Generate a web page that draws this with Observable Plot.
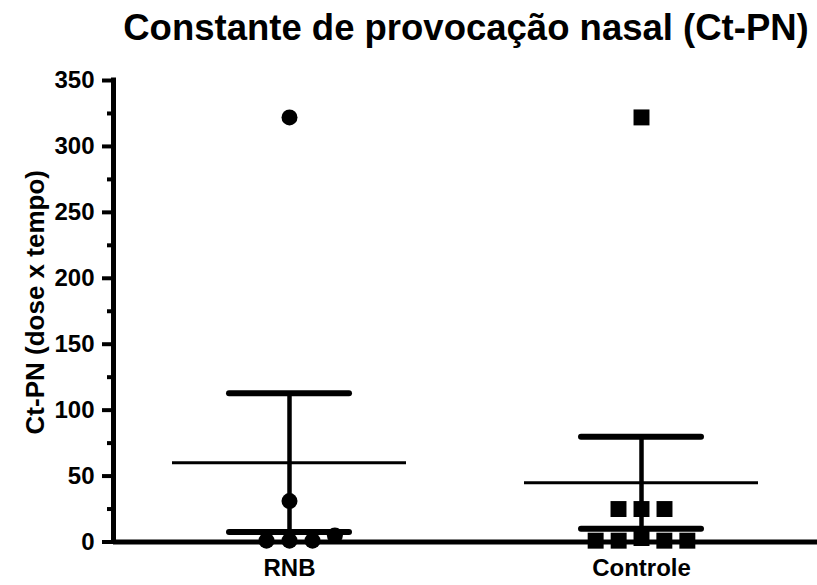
<!DOCTYPE html>
<html>
<head>
<meta charset="utf-8">
<script src="https://cdn.jsdelivr.net/npm/d3@7"></script>
<script src="https://cdn.jsdelivr.net/npm/@observablehq/plot@0.6"></script>
<style>
  body { margin: 0; background: #fff; font-family: "Liberation Sans", Arial, sans-serif; }
  #wrap { position: relative; width: 817px; height: 585px; overflow: hidden; }
  #title { position: absolute; left: 466px; top: 10px; transform: translateX(-50%); white-space: nowrap;
           font-size: 36.5px; line-height: 36px; font-weight: bold; color: #000; }
  #chart { position: absolute; left: 0; top: 0; }
</style>
</head>
<body>
<div id="wrap">
  <div id="chart"></div>
  <div id="title">Constante de provocação nasal (Ct-PN)</div>
</div>
<script>
// ---- data ----
const groups = ["RNB", "Controle"];
const rnbValues = [322, 31, 1, 1, 1, 5];
const controleValues = [322, 25, 25, 25, 3, 1, 1, 1, 1];
const yTicks = [0, 50, 100, 150, 200, 250, 300, 350];
const yMinorTicks = [25, 75, 125, 175, 225, 275, 325];
const yLabel = "Ct-PN (dose x tempo)";

const rnbRows = rnbValues.map(v => ({group: groups[0], value: v}));
const controleRows = controleValues.map(v => ({group: groups[1], value: v}));

// mean ± SEM per group
const stats = [[groups[0], rnbValues], [groups[1], controleValues]].map(([g, vals]) => {
  const m = d3.mean(vals);
  const sem = d3.deviation(vals) / Math.sqrt(vals.length);
  return {group: g, mean: m, hi: m + sem, lo: m - sem};
});

const chart = Plot.plot({
  width: 817,
  height: 585,
  marginLeft: 113,
  marginRight: 0,
  marginTop: 80,
  marginBottom: 43.5,
  style: {fontFamily: "'Liberation Sans', Arial, sans-serif", color: "#000", background: "#fff"},
  fx: {domain: groups, padding: 0, label: null},
  x: {domain: [0, 1], axis: null},
  y: {domain: [0, 350], label: null},
  marks: [
    // mean line
    Plot.ruleY(stats, {fx: "group", y: "mean", insetLeft: 59, insetRight: 59, strokeWidth: 3, stroke: "#000"}),
    // SEM whisker
    Plot.ruleX(stats, {fx: "group", x: () => 0.5, y1: "lo", y2: "hi", strokeWidth: 4.5, stroke: "#000"}),
    Plot.ruleY(stats, {fx: "group", y: "hi", insetLeft: 116, insetRight: 116, strokeWidth: 6, strokeLinecap: "round", stroke: "#000"}),
    Plot.ruleY(stats, {fx: "group", y: "lo", insetLeft: 116, insetRight: 116, strokeWidth: 6, strokeLinecap: "round", stroke: "#000"}),
    // points
    Plot.dot(rnbRows, Plot.dodgeX({anchor: "middle", padding: 7}, {fx: "group", y: "value", r: 8, symbol: "circle", fill: "#000"})),
    Plot.dot(controleRows, Plot.dodgeX({anchor: "middle", padding: 5}, {fx: "group", y: "value", r: 9, symbol: "square", fill: "#000"})),
    // axis lines
    Plot.ruleY([0], {strokeWidth: 5, stroke: "#000"}),
    Plot.ruleX([0], {fx: () => groups[0], y1: 0, y2: 350, strokeWidth: 5, stroke: "#000", strokeLinecap: "square"}),
    // y axis ticks
    Plot.axisY(yTicks, {tickSize: 11, tickPadding: 8, strokeWidth: 4, fontSize: 24, fontWeight: "bold", label: null}),
    Plot.axisY(yMinorTicks, {tickSize: 6, text: null, strokeWidth: 4, label: null}),
    // y axis title
    Plot.text([yLabel], {fx: () => groups[0], text: d => d, frameAnchor: "left", textAnchor: "middle", lineAnchor: "middle",
      rotate: -90, dx: -78, dy: -9, fontSize: 26, fontWeight: "bold", fill: "#000"}),
    // group labels
    Plot.axisFx({anchor: "bottom", tickSize: 0, tickPadding: 16.5, fontSize: 24, fontWeight: "bold", label: null})
  ]
});
document.getElementById("chart").appendChild(chart);
</script>
</body>
</html>
